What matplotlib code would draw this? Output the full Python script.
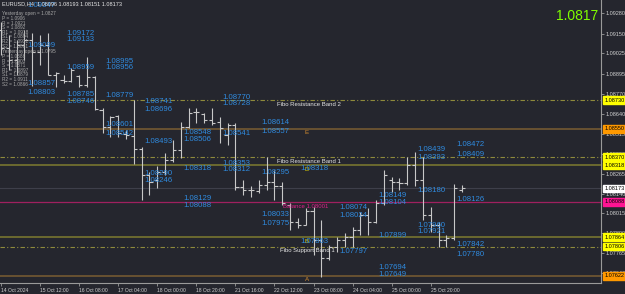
import matplotlib.pyplot as plt
from matplotlib.transforms import blended_transform_factory

plt.rcParams['font.family'] = ['Liberation Sans', 'DejaVu Sans']

bg = "#25262e"
bar_c = "#c8c8c8"
blue = "#2f8be0"

# EURUSD H4 bars
opens = [1.09173, 1.09059, 1.08983, 1.09078, 1.09110, 1.09034, 1.09078, 1.08889, 1.08857, 1.08851,
         1.08882, 1.08826, 1.08876, 1.08668, 1.08561, 1.08630, 1.08516, 1.08504, 1.08422, 1.08258,
         1.08226, 1.08277, 1.08352, 1.08416, 1.08561, 1.08655, 1.08643, 1.08605, 1.08592, 1.08510,
         1.08573, 1.08182, 1.08163, 1.08157, 1.08195, 1.08214, 1.08188, 1.08068, 1.07961, 1.07942,
         1.08030, 1.07848, 1.07734, 1.07803, 1.07848, 1.07867, 1.07911, 1.08005, 1.07961, 1.08081,
         1.08226, 1.08214, 1.08207, 1.08321, 1.08226, 1.08005, 1.07942, 1.07848, 1.07860, 1.08160]
highs = [1.09223, 1.09141, 1.09110, 1.09173, 1.09154, 1.09141, 1.09154, 1.08908, 1.08889, 1.08933,
         1.08889, 1.09002, 1.08880, 1.08681, 1.08630, 1.08636, 1.08542, 1.08731, 1.08435, 1.08277,
         1.08315, 1.08397, 1.08479, 1.08592, 1.08681, 1.08681, 1.08649, 1.08681, 1.08624, 1.08586,
         1.08586, 1.08226, 1.08188, 1.08226, 1.08371, 1.08289, 1.08214, 1.08081, 1.07986, 1.08049,
         1.08056, 1.07974, 1.07816, 1.07867, 1.07892, 1.07930, 1.08024, 1.08049, 1.08100, 1.08289,
         1.08245, 1.08239, 1.08371, 1.08403, 1.08371, 1.08056, 1.07961, 1.07879, 1.08201, 1.08193]
lows = [1.09015, 1.08920, 1.08889, 1.08983, 1.08819, 1.08952, 1.08889, 1.08813, 1.08838, 1.08845,
        1.08813, 1.08813, 1.08668, 1.08523, 1.08497, 1.08497, 1.08485, 1.08327, 1.08100, 1.08132,
        1.08176, 1.08258, 1.08340, 1.08365, 1.08555, 1.08586, 1.08586, 1.08573, 1.08460, 1.08447,
        1.08163, 1.08132, 1.08119, 1.08144, 1.08163, 1.08100, 1.08068, 1.07911, 1.07923, 1.07942,
        1.07753, 1.07614, 1.07721, 1.07772, 1.07803, 1.07803, 1.07879, 1.07879, 1.07955, 1.08068,
        1.08151, 1.08163, 1.08195, 1.08188, 1.07974, 1.07898, 1.07803, 1.07803, 1.07848, 1.08151]
closes = [1.09059, 1.08983, 1.09078, 1.09110, 1.09034, 1.09078, 1.08889, 1.08901, 1.08851, 1.08920,
          1.08826, 1.08876, 1.08674, 1.08561, 1.08624, 1.08523, 1.08510, 1.08422, 1.08258, 1.08214,
          1.08277, 1.08352, 1.08416, 1.08561, 1.08649, 1.08655, 1.08605, 1.08586, 1.08554, 1.08573,
          1.08182, 1.08163, 1.08163, 1.08195, 1.08214, 1.08188, 1.08081, 1.07961, 1.07942, 1.08030,
          1.07848, 1.07734, 1.07803, 1.07848, 1.07867, 1.07911, 1.08005, 1.07961, 1.08081, 1.08258,
          1.08214, 1.08207, 1.08321, 1.08226, 1.08005, 1.07942, 1.07848, 1.07860, 1.08176, 1.08173]

time_labels = ["14 Oct 2024", "15 Oct 12:00", "16 Oct 08:00", "17 Oct 04:00", "18 Oct 00:00",
               "18 Oct 20:00", "21 Oct 16:00", "22 Oct 12:00", "23 Oct 08:00", "24 Oct 04:00",
               "25 Oct 00:00", "25 Oct 20:00"]
price_ticks = [1.09280, 1.09150, 1.09025, 1.08895, 1.08770, 1.08640, 1.08515, 1.08390,
               1.08265, 1.08140, 1.08015, 1.07890, 1.07765, 1.07640]

# swing high / low labels
swing_bar = [3, 3, 3, 3,
             8, 8, 8, 8, 8,
             13, 13, 13, 13, 13,
             18, 18, 18, 18, 18,
             23, 23, 23, 23, 23,
             28, 28, 28, 28, 28,
             33, 33, 33, 33, 33,
             38, 38,
             43, 43, 43,
             48, 48, 48, 48, 48,
             53, 53, 53, 53, 53,
             58, 58, 58, 58, 58]
swing_val = [1.09347, 1.09099, 1.08857, 1.08803,
             1.09172, 1.09133, 1.08959, 1.08785, 1.08746,
             1.08995, 1.08956, 1.08779, 1.08601, 1.08542,
             1.08741, 1.08696, 1.08493, 1.08290, 1.08246,
             1.08548, 1.08506, 1.08318, 1.08129, 1.08088,
             1.08770, 1.08728, 1.08541, 1.08353, 1.08312,
             1.08614, 1.08557, 1.08295, 1.08033, 1.07975,
             1.08318, 1.07863,
             1.08074, 1.08024, 1.07797,
             1.08149, 1.08104, 1.07899, 1.07694, 1.07649,
             1.08439, 1.08393, 1.08180, 1.07960, 1.07921,
             1.08472, 1.08409, 1.08126, 1.07842, 1.07780]

# horizontal levels
levels = [1.08730, 1.08550, 1.08370, 1.08318, 1.08088, 1.07864, 1.07806, 1.07622]
level_colors = ["#8f8a3c", "#6e5532", "#8f8a3c", "#7e7b30", "#a0205f", "#7e7b30", "#8f8a3c", "#6e5532"]
level_styles = [(0, (4, 2, 1, 2)), "-", (0, (4, 2, 1, 2)), "-", "-", "-", (0, (4, 2, 1, 2)), "-"]
level_widths = [0.8, 1.3, 0.8, 1.1, 0.9, 1.1, 0.8, 1.3]
box_colors = ["#ffff00", "#ff9900", "#ffff00", "#ffff00", "#ff1493", "#ffff00", "#ffff00", "#ff9900"]

current = 1.08173

pivot_1 = ["Yesterday open = 1.0827", "P = 1.0906", "R = 1.0921", "S = 1.0892",
           "R1 = 1.0918", "S1 = 1.0894", "R2 = 1.0931", "S2 = 1.0881"]
pivot_2 = ["Yesterday open = 1.0795", "P = 1.0886", "R = 1.0903", "S = 1.0871",
           "R1 = 1.0897", "S1 = 1.0879", "R2 = 1.0911", "S2 = 1.0866"]

fig = plt.figure(figsize=(6.25, 2.94), dpi=100, facecolor=bg)
ax = fig.add_axes([0, 11 / 294, 601 / 625, 283 / 294], facecolor=bg)
ax.set_xlim(-0.128, 76.79)
ax.set_ylim(1.07576, 1.09362)

idx = list(range(len(opens)))
ax.vlines(idx, lows, highs, color=bar_c, lw=0.8, zorder=3)
ax.hlines(opens, [i - 0.4 for i in idx], idx, color=bar_c, lw=0.8, zorder=3)
ax.hlines(closes, idx, [i + 0.4 for i in idx], color=bar_c, lw=0.8, zorder=3)

ax.axhline(current, color="#3e3f4a", lw=0.8, zorder=1)
for lv, c, ls, lw in zip(levels, level_colors, level_styles, level_widths):
    ax.axhline(lv, color=c, ls=ls, lw=lw, zorder=2)


def caption(x, y, s, color, size):
    ax.annotate(s, (x, y), xytext=(0, -1.2), textcoords="offset points",
                color=color, fontsize=size, va="top", zorder=5)


# level captions
caption(35.26, levels[0], "Fibo Resistance Band 2", "#e6e6e6", 4.3)
caption(35.26, levels[2], "Fibo Resistance Band 1", "#e6e6e6", 4.3)
caption(35.7, levels[6], "Fibo Support Band 1", "#e6e6e6", 4.3)
caption(36.1, levels[4], "Balance 1.08001", "#e0208a", 4.3)
caption(38.9, levels[1], "E", "#d08a30", 4.5)
caption(38.9, levels[3], "D", "#e8d800", 4.5)
caption(38.9, levels[5], "B", "#e8d800", 4.5)
caption(38.9, levels[7], "A", "#d08a30", 4.5)

for b, v in zip(swing_bar, swing_val):
    ax.text(b + 0.33, v, f"{v:.5f}", color=blue, fontsize=5.6, va="top", zorder=6)

# pivot info block
for k, line in enumerate(pivot_1):
    ax.text(0.003, 1 - (14 + 4.6 * k) / 283, line, transform=ax.transAxes,
            color="#a8a8a8", fontsize=3.4, va="center", zorder=7)
for k, line in enumerate(pivot_2):
    ax.text(0.003, 1 - (52 + 4.6 * k) / 283, line, transform=ax.transAxes,
            color="#a8a8a8", fontsize=3.4, va="center", zorder=7)

ax.text(0.003, 1 - 4 / 283, "EURUSD,H4  1.08096 1.08193 1.08151 1.08173", transform=ax.transAxes,
        color="#e8e8e8", fontsize=4, va="center", zorder=8)
ax.text(0.995, 1 - 16 / 283, "1.0817", transform=ax.transAxes, color="#7fff00",
        fontsize=10, ha="right", va="center", zorder=8)

# axes styling
for s in ["left", "top"]:
    ax.spines[s].set_visible(False)
for s in ["right", "bottom"]:
    ax.spines[s].set_color("#9a9a9a")
    ax.spines[s].set_linewidth(0.8)

ax.yaxis.tick_right()
ax.set_yticks(price_ticks)
ax.set_yticklabels([f"{p:.5f}" for p in price_ticks])
ax.tick_params(axis="y", colors="#9a9a9a", labelcolor="#d0d0d0", labelsize=4, length=2, pad=1.5, width=0.6)

ax.set_xticks(range(0, 5 * len(time_labels), 5))
ax.set_xticklabels(time_labels, ha="left")
ax.tick_params(axis="x", colors="#9a9a9a", labelcolor="#d0d0d0", labelsize=3.6, length=2, pad=1.5, width=0.6)

tr = blended_transform_factory(ax.transAxes, ax.transData)
for lv, c in zip(levels, box_colors):
    ax.text(1.006, lv, f"{lv:.5f}", transform=tr, fontsize=4, color="black", va="center",
            ha="left", clip_on=False, zorder=9,
            bbox=dict(boxstyle="square,pad=0.25", facecolor=c, edgecolor=c))
ax.text(1.006, current, f"{current:.5f}", transform=tr, fontsize=4, color="black", va="center",
        ha="left", clip_on=False, zorder=9,
        bbox=dict(boxstyle="square,pad=0.25", facecolor="white", edgecolor="white"))

fig.savefig("out.png", dpi=100, facecolor=bg)
